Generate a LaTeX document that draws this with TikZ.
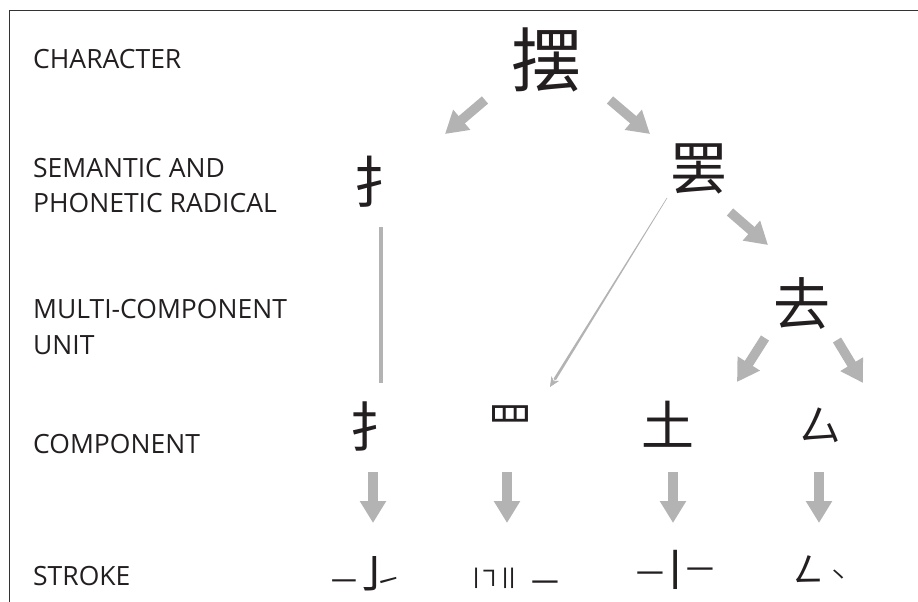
\documentclass[tikz,border=0pt]{standalone}
\usepackage{fontspec}
\setmainfont{Open Sans}
\newfontfamily\cjk{Noto Sans CJK SC}
\usetikzlibrary{arrows.meta,calc}
\definecolor{arrowgray}{HTML}{B3B3B3}
\definecolor{framegray}{HTML}{333333}
\definecolor{ink}{HTML}{231F20}
% one stroke glyph centred on the current point: size, raise, glyph
\newcommand{\strokeglyph}[3]{\makebox[0pt]{\raisebox{#2pt}{\fontsize{#1}{#1}\selectfont #3}}}

\begin{document}
\begin{tikzpicture}[x=1pt,y=-1pt,
  lab/.style={anchor=base west, inner sep=0pt, text=ink,
              font=\fontsize{26.5}{34}\selectfont},
  han/.style={inner sep=0pt, text=ink, font=\cjk\fontsize{#1}{#1}\selectfont},
  strokes/.style={anchor=base west, inner sep=0pt, text=ink, font=\cjk},
  fat/.style={draw=arrowgray, line width=9.5pt,
              -{Triangle[width=25pt,length=22pt]}, arrowgray},
]
\useasboundingbox (0,0) rectangle (918,602);

% frame (top and left edges)
\draw[framegray, line width=1.5pt] (9.5,602) -- (9.5,10.5) -- (918,10.5);

% level labels
\node[lab] (lchar)  at (33,68)  {CHARACTER};
\node[lab] (lsem)   at (33,177) {SEMANTIC AND};
\node[lab] (lsemb)  at (33,212) {PHONETIC RADICAL};
\node[lab] (lmulti) at (33,318) {MULTI-COMPONENT};
\node[lab] (lmultb) at (33,354) {UNIT};
\node[lab] (lcomp)  at (33,453) {COMPONENT};
\node[lab] (lstrk)  at (33,585) {STROKE};

% character, radicals, unit, components
\node[han=70] (bai)  at (546,60)  {摆};
\node[han=56] (rad)  at (381,182) {扌};
\node[han=57] (ba)   at (699,169) {罢};
\node[han=57] (qu)   at (802,304) {去};
\node[han=54] (c1)   at (376,426) {扌};
\node[han=46] (c2)   at (510,424) {罒};
\node[han=53] (c3)   at (668,424) {土};
\node[han=42] (c4)   at (820,425) {厶};

% strokes of each component
\node[strokes] (s1) at (344,593)
  {\strokeglyph{28}{2}{㇐}\kern25pt\strokeglyph{46}{2}{㇚}\kern19pt\strokeglyph{26}{3}{㇀}};
\node[strokes] (s2) at (476,587)
  {\strokeglyph{24}{0}{㇑}\kern13pt\strokeglyph{24}{0}{㇕}\kern16pt\strokeglyph{24}{0}{㇑}\kern7pt\strokeglyph{24}{0}{㇑}\kern33pt\strokeglyph{30}{-6}{㇐}};
\node[strokes] (s3) at (650,586)
  {\strokeglyph{30}{1.6}{㇐}\kern25pt\strokeglyph{46}{-1.5}{㇑}\kern25pt\strokeglyph{30}{5.6}{㇐}};
\node[strokes] (s4) at (808,583)
  {\strokeglyph{38}{0}{㇜}\kern30pt\strokeglyph{22}{0}{㇔}};

% decomposition arrows
\draw[fat] ($(bai)+(-61,40)$) -- ($(bai)+(-101,74)$);
\draw[fat] ($(bai)+(64,40)$)  -- ($(bai)+(104,74)$);
\draw[fat] ($(ba)+(31,43)$)   -- ($(ba)+(69,76)$);
\draw[fat] ($(qu)+(-37,34)$)  -- ($(qu)+(-65,78)$);
\draw[fat] ($(qu)+(35,36)$)   -- ($(qu)+(61,79)$);

% radical stays the same component
\draw[arrowgray, line width=4pt] (rad.south |- 0,227) -- (rad.south |- 0,383);

% thin tapering arrow from the unit to its top component
\coordinate (ts) at ($(ba)+(-32,29)$);
\coordinate (te) at ($(c2)+(40,-37)$);
\coordinate (tb) at ($(te)!9pt!(ts)$);
\fill[arrowgray] ($(ts)!0.3pt!90:(te)$) -- ($(ts)!0.3pt!-90:(te)$)
   -- ($(tb)!1.4pt!90:(ts)$) -- ($(tb)!1.4pt!-90:(ts)$) -- cycle;
\draw[arrowgray, line width=0.6pt, -{Stealth[length=10pt,width=9pt,inset=3pt]}]
   ($(te)!11pt!(ts)$) -- (te);

% components down to strokes
\foreach \c/\dx in {c1/-3, c2/-3, c3/5, c4/-1} {
  \draw[fat] ($(\c |- 0,472)+(\dx,0)$) -- ($(\c |- 0,523)+(\dx,0)$);
}
\end{tikzpicture}
\end{document}
